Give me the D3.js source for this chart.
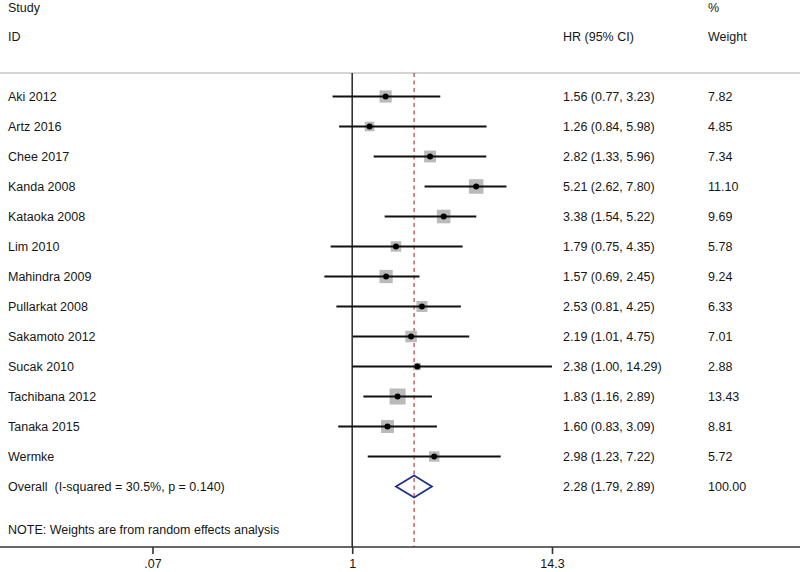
<!DOCTYPE html>
<html>
<head>
<meta charset="utf-8">
<script src="https://cdn.jsdelivr.net/npm/d3@7"></script>
<style>
  body { margin: 0; background: #fff; }
  text { font-family: Arial, "Liberation Sans", sans-serif; font-size: 12.5px; fill: #161616; white-space: pre; }
</style>
</head>
<body>
<svg id="forest" width="800" height="572"></svg>
<script>
//Study names, hazard ratios with 95% CI and random-effects weights.
let studies = ['Aki 2012', 'Artz 2016', 'Chee 2017', 'Kanda 2008', 'Kataoka 2008', 'Lim 2010',
  'Mahindra 2009', 'Pullarkat 2008', 'Sakamoto 2012', 'Sucak 2010', 'Tachibana 2012', 'Tanaka 2015', 'Wermke'];
let hr    = [1.56, 1.26, 2.82, 5.21, 3.38, 1.79, 1.57, 2.53, 2.19, 2.38, 1.83, 1.60, 2.98];
let lower = [0.77, 0.84, 1.33, 2.62, 1.54, 0.75, 0.69, 0.81, 1.01, 1.00, 1.16, 0.83, 1.23];
let upper = [3.23, 5.98, 5.96, 7.80, 5.22, 4.35, 2.45, 4.25, 4.75, 14.29, 2.89, 3.09, 7.22];
let weights = [7.82, 4.85, 7.34, 11.10, 9.69, 5.78, 9.24, 6.33, 7.01, 2.88, 13.43, 8.81, 5.72];

//Pooled estimate.
let overallLabel = 'Overall  (I-squared = 30.5%, p = 0.140)';
let overall = {hr: 2.28, lo: 1.79, hi: 2.89, w: 100.00};

//Axis ticks.
let tickValues = [0.07, 1, 14.3];
let tickLabels = ['.07', '1', '14.3'];

let rows = studies.map((s, i) => ({name: s, hr: hr[i], lo: lower[i], hi: upper[i], w: weights[i]}));

let svg = d3.select('#forest');
let W = 800;

//Log scale for the effect size.
let x = d3.scaleLog().domain([0.07, 14.3]).range([152.5, 552]);
//Row positions: 13 studies plus the overall row.
let y = d3.scaleLinear().domain([0, 13]).range([96.5, 486.5]);
//Square size grows with the weight (area proportional to weight).
let side = d3.scaleSqrt().domain([0, 13.43]).range([0, 16]);

let topY = 73, axisY = 547;

//Header text.
svg.append('text').attr('x', 8).attr('y', 12).text('Study');
svg.append('text').attr('x', 8).attr('y', 41).text('ID');
svg.append('text').attr('x', 563).attr('y', 41).text('HR (95% CI)');
svg.append('text').attr('x', 708).attr('y', 12).text('%');
svg.append('text').attr('x', 708).attr('y', 41).text('Weight');

//Light grey rule under the header.
svg.append('line').attr('x1', 0).attr('x2', W).attr('y1', topY).attr('y2', topY)
  .attr('stroke', '#d4d4d4').attr('stroke-width', 2);

//Line of no effect.
svg.append('line').attr('x1', x(1)).attr('x2', x(1)).attr('y1', topY).attr('y2', axisY)
  .attr('stroke', '#333').attr('stroke-width', 1.6);

//Dashed line at the pooled estimate.
svg.append('line').attr('x1', x(overall.hr)).attr('x2', x(overall.hr)).attr('y1', topY).attr('y2', axisY)
  .attr('stroke', '#c0504d').attr('stroke-width', 1.3).attr('stroke-dasharray', '4,3.5');

let g = svg.append('g').selectAll('g').data(rows).join('g')
  .attr('transform', (d, i) => 'translate(0,' + y(i) + ')');

//Weight squares.
g.append('rect')
  .attr('x', d => x(d.hr) - side(d.w) / 2)
  .attr('y', d => -side(d.w) / 2)
  .attr('width', d => side(d.w))
  .attr('height', d => side(d.w))
  .attr('fill', '#bababa');

//Confidence intervals.
g.append('line')
  .attr('x1', d => x(d.lo)).attr('x2', d => x(d.hi))
  .attr('y1', 0).attr('y2', 0)
  .attr('stroke', '#111').attr('stroke-width', 2);

//Point estimates.
g.append('circle').attr('cx', d => x(d.hr)).attr('cy', 0).attr('r', 3).attr('fill', '#000');

//Left and right text columns.
g.append('text').attr('x', 8).attr('y', 4.5).text(d => d.name);
g.append('text').attr('x', 563).attr('y', 4.5)
  .text(d => d.hr.toFixed(2) + ' (' + d.lo.toFixed(2) + ', ' + d.hi.toFixed(2) + ')');
g.append('text').attr('x', 708).attr('y', 4.5).text(d => d.w.toFixed(2));

//Overall row with the diamond.
let oy = y(13);
svg.append('path')
  .attr('d', 'M' + x(overall.lo) + ',' + oy + 'L' + x(overall.hr) + ',' + (oy - 11) +
    'L' + x(overall.hi) + ',' + oy + 'L' + x(overall.hr) + ',' + (oy + 11) + 'Z')
  .attr('fill', 'none').attr('stroke', '#1f2f8a').attr('stroke-width', 1.8);
svg.append('text').attr('x', 8).attr('y', oy + 4.5).text(overallLabel);
svg.append('text').attr('x', 563).attr('y', oy + 4.5)
  .text(overall.hr.toFixed(2) + ' (' + overall.lo.toFixed(2) + ', ' + overall.hi.toFixed(2) + ')');
svg.append('text').attr('x', 708).attr('y', oy + 4.5).text(overall.w.toFixed(2));

svg.append('text').attr('x', 8).attr('y', 533.5).text('NOTE: Weights are from random effects analysis');

//Bottom axis: full-width rule plus the three log ticks.
svg.append('line').attr('x1', 0).attr('x2', W).attr('y1', axisY).attr('y2', axisY)
  .attr('stroke', '#333').attr('stroke-width', 1.6);
let xAxis = d3.axisBottom(x).tickValues(tickValues)
  .tickFormat((d, i) => tickLabels[i]).tickSize(7).tickPadding(5);
let ax = svg.append('g').attr('transform', 'translate(0,' + axisY + ')').call(xAxis);
ax.select('.domain').remove();
ax.selectAll('.tick line').attr('stroke', '#333').attr('stroke-width', 1.6);
ax.selectAll('.tick text').style('font-family', 'Arial, "Liberation Sans", sans-serif')
  .style('font-size', '12.5px').attr('fill', '#161616');
</script>
</body>
</html>
